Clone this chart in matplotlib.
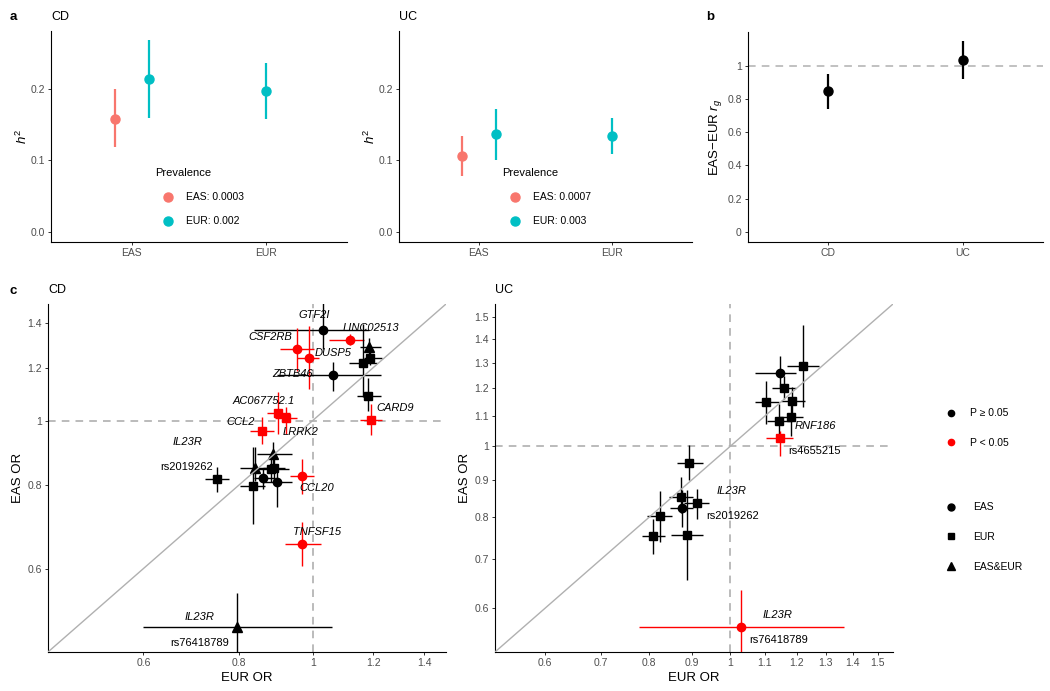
import matplotlib
matplotlib.use('Agg')
import matplotlib.pyplot as plt
from matplotlib.lines import Line2D
from matplotlib.ticker import FixedLocator, NullLocator, FixedFormatter

plt.rcParams['font.family'] = ['Liberation Sans', 'DejaVu Sans']
plt.rcParams['mathtext.fontset'] = 'custom'
plt.rcParams['mathtext.rm'] = 'Liberation Sans'
plt.rcParams['mathtext.it'] = 'Liberation Sans:italic'

# ---- panel a: SNP heritability (population, prevalence used) ----
h2_groups = ['EAS', 'EUR']
h2_pop = ['EAS', 'EAS', 'EUR']
h2_prev = ['EAS', 'EUR', 'EUR']
cd_h2 = [0.158, 0.213, 0.196]
cd_h2_lo = [0.118, 0.159, 0.157]
cd_h2_hi = [0.199, 0.267, 0.236]
uc_h2 = [0.106, 0.137, 0.134]
uc_h2_lo = [0.079, 0.100, 0.109]
uc_h2_hi = [0.134, 0.172, 0.159]
cd_prev_labels = ['EAS: 0.0003', 'EUR: 0.002']
uc_prev_labels = ['EAS: 0.0007', 'EUR: 0.003']

# ---- panel b: trans-ancestry genetic correlation ----
rg_traits = ['CD', 'UC']
rg = [0.848, 1.032]
rg_lo = [0.741, 0.918]
rg_hi = [0.948, 1.146]

# ---- panel c: lead variant odds ratios ----
cd_gene = ['GTF2I', 'LINC02513', '', '', '', '', 'CARD9', 'ZBTB46', 'CSF2RB', 'DUSP5',
           'AC067752.1', 'LRRK2', 'CCL2', 'CCL20', 'IL23R', '', '', '', '', '', '', '',
           'TNFSF15', 'IL23R']
cd_rsid = ['', '', '', '', '', '', '', '', '', '', '', '', '', '', 'rs2019262',
           '', '', '', '', '', '', '', '', 'rs76418789']
cd_eur = [1.032, 1.118, 1.184, 1.163, 1.187, 1.181, 1.194, 1.062, 0.954, 0.988,
          0.901, 0.924, 0.859, 0.967, 0.749, 0.887, 0.841, 0.883, 0.891, 0.862,
          0.897, 0.834, 0.969, 0.796]
cd_eur_lo = [0.837, 1.050, 1.155, 1.115, 1.167, 1.144, 1.155, 0.898, 0.907, 0.954,
             0.871, 0.893, 0.828, 0.935, 0.723, 0.845, 0.804, 0.845, 0.860, 0.837,
             0.862, 0.804, 0.921, 0.599]
cd_eur_hi = [1.184, 1.167, 1.227, 1.215, 1.233, 1.227, 1.233, 1.227, 1.003, 1.018,
             0.935, 0.954, 0.889, 1.003, 0.776, 0.940, 0.885, 0.930, 0.920, 0.893,
             0.940, 0.867, 1.024, 1.060]
cd_eas = [1.366, 1.321, 1.291, 1.221, 1.242, 1.087, 1.003, 1.170, 1.281, 1.243,
          1.027, 1.008, 0.965, 0.825, 0.817, 0.892, 0.849, 0.845, 0.849, 0.819,
          0.810, 0.798, 0.653, 0.491]
cd_eas_lo = [1.279, 1.300, 1.250, 1.083, 1.210, 1.035, 0.950, 1.109, 1.187, 1.115,
             0.955, 0.955, 0.923, 0.777, 0.782, 0.850, 0.812, 0.810, 0.815, 0.790,
             0.742, 0.701, 0.605, 0.440]
cd_eas_hi = [1.520, 1.348, 1.330, 1.394, 1.270, 1.160, 1.059, 1.222, 1.378, 1.386,
             1.102, 1.047, 1.011, 0.877, 0.852, 0.930, 0.912, 0.880, 0.885, 0.850,
             0.862, 0.912, 0.705, 0.551]
cd_sig = [0, 1, 0, 0, 0, 0, 1, 0, 1, 1, 1, 1, 1, 1, 0, 0, 0, 0, 0, 0, 0, 0, 1, 0]
cd_src = ['EAS', 'EAS', 'EAS&EUR', 'EUR', 'EUR', 'EUR', 'EUR', 'EAS', 'EAS', 'EAS',
          'EUR', 'EUR', 'EUR', 'EAS', 'EUR', 'EAS&EUR', 'EAS&EUR', 'EUR', 'EUR', 'EAS',
          'EAS', 'EUR', 'EAS', 'EAS&EUR']

uc_gene = ['', '', '', '', '', '', '', 'RNF186', '', '', '', 'IL23R', '', '', '', 'IL23R']
uc_rsid = ['', '', '', '', '', '', '', 'rs4655215', '', '', '', 'rs2019262', '', '', '', 'rs76418789']
uc_eur = [1.222, 1.146, 1.159, 1.104, 1.186, 1.183, 1.143, 1.145, 0.893, 0.872,
          0.875, 0.912, 0.824, 0.809, 0.887, 1.031]
uc_eur_lo = [1.170, 1.069, 1.122, 1.069, 1.149, 1.143, 1.107, 1.102, 0.863, 0.845,
             0.847, 0.880, 0.795, 0.783, 0.849, 0.777]
uc_eur_hi = [1.277, 1.197, 1.197, 1.143, 1.228, 1.223, 1.186, 1.188, 0.927, 0.902,
             0.903, 0.943, 0.852, 0.835, 0.927, 1.369]
uc_eas = [1.288, 1.261, 1.203, 1.148, 1.154, 1.098, 1.084, 1.027, 0.948, 0.851,
          0.823, 0.835, 0.803, 0.754, 0.757, 0.566]
uc_eas_lo = [1.130, 1.203, 1.160, 1.073, 1.107, 1.034, 1.029, 0.971, 0.898, 0.810,
             0.776, 0.796, 0.740, 0.712, 0.656, 0.500]
uc_eas_hi = [1.463, 1.329, 1.248, 1.229, 1.206, 1.154, 1.142, 1.050, 1.004, 0.907,
             0.870, 0.875, 0.868, 0.796, 0.872, 0.636]
uc_sig = [0, 0, 0, 0, 0, 0, 0, 1, 0, 0, 0, 0, 0, 0, 0, 1]
uc_src = ['EUR', 'EAS', 'EUR', 'EUR', 'EUR', 'EUR', 'EUR', 'EUR', 'EUR', 'EUR',
          'EAS', 'EUR', 'EUR', 'EUR', 'EUR', 'EAS']

# label offsets in pixels (gene label, rsid label), relative to the point
cd_label_off = {0: [(-9, 15)], 1: [(21, 12)], 6: [(24, 12)], 7: [(-40, 1)], 8: [(-27, 12)],
                9: [(24, 5)], 10: [(-14, 12)], 11: [(14, -14)], 12: [(-22, 9)],
                13: [(15, -12)], 14: [(-29, 37), (-30, 12)], 22: [(15, 12)],
                23: [(-38, 10), (-37, -16)]}
uc_label_off = {7: [(36, 12), (35, -13)], 11: [(35, 12), (36, -13)],
                15: [(36, 12), (37, -13)]}

W, H = 1050, 691
PX = 72 / 100.0
TICK_GREY = '#4D4D4D'
prev_colors = {'EAS': '#F8766D', 'EUR': '#00BFC4'}
src_marker = {'EAS': 'o', 'EUR': 's', 'EAS&EUR': '^'}
src_size = {'EAS': 6.0, 'EUR': 5.6, 'EAS&EUR': 7.0}

fig = plt.figure(figsize=(W / 100, H / 100), dpi=100)


def px_axes(left, top, right, bottom):
    return fig.add_axes([left / W, 1 - bottom / H, (right - left) / W, (bottom - top) / H])


def style(ax):
    for s in ['top', 'right']:
        ax.spines[s].set_visible(False)
    for s in ['left', 'bottom']:
        ax.spines[s].set_linewidth(0.8)
    ax.tick_params(axis='both', which='major', labelsize=7.5, labelcolor=TICK_GREY,
                   color='#333333', length=2.5, width=0.7, pad=2)


def draw_h2(ax, est, lo, hi, prev_labels, title):
    style(ax)
    for i in range(len(est)):
        members = [j for j, p in enumerate(h2_pop) if p == h2_pop[i]]
        k = members.index(i)
        off = (k - (len(members) - 1) / 2) * 0.25
        xpos = h2_groups.index(h2_pop[i]) + 1 + off
        ax.errorbar(xpos, est[i], yerr=[[est[i] - lo[i]], [hi[i] - est[i]]], fmt='o',
                    color=prev_colors[h2_prev[i]], ms=6.5, elinewidth=1.6, capsize=0)
    ax.set_xlim(0.4, 2.6)
    ax.set_ylim(-0.0135, 0.28)
    ax.set_xticks([1, 2])
    ax.set_xticklabels(h2_groups)
    ax.set_yticks([0, 0.1, 0.2])
    ax.set_yticklabels(['0.0', '0.1', '0.2'])
    ax.set_ylabel('$h^2$', fontsize=9.5, labelpad=0)
    ax.set_title(title, loc='left', fontsize=9, pad=8)
    handles = [Line2D([], [], ls='', marker='o', ms=6.5, color=prev_colors[p]) for p in h2_groups]
    ax.legend(handles, prev_labels, title='Prevalence', loc='upper left',
              bbox_to_anchor=(0.335, 0.375), frameon=False, alignment='left',
              fontsize=7.5, title_fontsize=8, borderpad=0, labelspacing=1.35,
              handlelength=2.5, handletextpad=0.4)


def draw_or(ax, eur, eur_lo, eur_hi, eas, eas_lo, eas_hi, sig, src, genes, rsids,
            offsets, lim, ticks, title):
    style(ax)
    ax.set_xscale('log')
    ax.set_yscale('log')
    ax.axhline(1, color='#A8A8A8', lw=1.1, ls=(0, (5, 4)), zorder=1)
    ax.axvline(1, color='#A8A8A8', lw=1.1, ls=(0, (5, 4)), zorder=1)
    for i in range(len(eur)):
        c = 'red' if sig[i] else 'black'
        ax.errorbar(eur[i], eas[i],
                    xerr=[[eur[i] - eur_lo[i]], [eur_hi[i] - eur[i]]],
                    yerr=[[eas[i] - eas_lo[i]], [eas_hi[i] - eas[i]]],
                    fmt=src_marker[src[i]], ms=src_size[src[i]], color=c,
                    elinewidth=1.0, capsize=0, zorder=3)
    ax.axline((1, 1), (1.2, 1.2), color='#B0B0B0', lw=1.0, zorder=4)
    for i, offs in offsets.items():
        dx, dy = offs[0]
        ax.annotate(genes[i], (eur[i], eas[i]), xytext=(dx * PX, dy * PX),
                    textcoords='offset points', ha='center', va='center',
                    fontsize=8, style='italic', zorder=5)
        if len(offs) > 1:
            dx, dy = offs[1]
            ax.annotate(rsids[i], (eur[i], eas[i]), xytext=(dx * PX, dy * PX),
                        textcoords='offset points', ha='center', va='center',
                        fontsize=8, zorder=5)
    ax.set_xlim(*lim)
    ax.set_ylim(*lim)
    labels = ['{:g}'.format(t) for t in ticks]
    for axis in (ax.xaxis, ax.yaxis):
        axis.set_major_locator(FixedLocator(ticks))
        axis.set_major_formatter(FixedFormatter(labels))
        axis.set_minor_locator(NullLocator())
    ax.set_xlabel('EUR OR', fontsize=9.5, labelpad=3)
    ax.set_ylabel('EAS OR', fontsize=9.5, labelpad=2)
    ax.set_title(title, loc='left', fontsize=9, pad=8)


# panel a
ax_a1 = px_axes(51, 31, 347, 242)
draw_h2(ax_a1, cd_h2, cd_h2_lo, cd_h2_hi, cd_prev_labels, 'CD')
ax_a2 = px_axes(399, 31, 692, 242)
draw_h2(ax_a2, uc_h2, uc_h2_lo, uc_h2_hi, uc_prev_labels, 'UC')

# panel b
ax_b = px_axes(748, 32, 1043, 242)
style(ax_b)
ax_b.axhline(1, color='#B0B0B0', lw=1.1, ls=(0, (5, 4)), zorder=1)
for i, t in enumerate(rg_traits):
    ax_b.errorbar(i + 1, rg[i], yerr=[[rg[i] - rg_lo[i]], [rg_hi[i] - rg[i]]], fmt='o',
                  color='black', ms=6.5, elinewidth=1.6, capsize=0, zorder=3)
ax_b.set_xlim(0.4, 2.6)
ax_b.set_ylim(-0.062, 1.203)
ax_b.set_xticks([1, 2])
ax_b.set_xticklabels(rg_traits)
yt = [0, 0.2, 0.4, 0.6, 0.8, 1]
ax_b.set_yticks(yt)
ax_b.set_yticklabels(['{:g}'.format(v) for v in yt])
ax_b.set_ylabel('EAS\u2212EUR $r_g$', fontsize=9.5, labelpad=2)

# panel c
draw_or(px_axes(48, 304, 446, 652), cd_eur, cd_eur_lo, cd_eur_hi, cd_eas, cd_eas_lo,
        cd_eas_hi, cd_sig, cd_src, cd_gene, cd_rsid, cd_label_off, (0.45, 1.495),
        [0.6, 0.8, 1, 1.2, 1.4], 'CD')
draw_or(px_axes(495, 304, 893, 652), uc_eur, uc_eur_lo, uc_eur_hi, uc_eas, uc_eas_lo,
        uc_eas_hi, uc_sig, uc_src, uc_gene, uc_rsid, uc_label_off, (0.523, 1.565),
        [0.6, 0.7, 0.8, 0.9, 1, 1.1, 1.2, 1.3, 1.4, 1.5], 'UC')

# panel c legends
sig_handles = [Line2D([], [], ls='', marker='o', ms=4.5, color=c) for c in ['black', 'red']]
fig.legend(sig_handles, ['P \u2265 0.05', 'P < 0.05'], loc='upper left',
           bbox_to_anchor=(941 / W, 1 - 403 / H), frameon=False, fontsize=7.5,
           borderpad=0, labelspacing=1.9, handlelength=1.0, handletextpad=1.3)
src_handles = [Line2D([], [], ls='', marker=src_marker[s], ms=src_size[s] - 1, color='black')
               for s in ['EAS', 'EUR', 'EAS&EUR']]
fig.legend(src_handles, ['EAS', 'EUR', 'EAS&EUR'], loc='upper left',
           bbox_to_anchor=(941 / W, 1 - 497 / H), frameon=False, fontsize=7.5,
           borderpad=0, labelspacing=1.9, handlelength=1.0, handletextpad=1.6)

# panel letters
for letter, x, y in [('a', 13, 17), ('b', 710, 17), ('c', 13, 291)]:
    fig.text(x / W, 1 - y / H, letter, fontsize=9.5, fontweight='bold', ha='center', va='center')

fig.savefig('out.png', dpi=100)
